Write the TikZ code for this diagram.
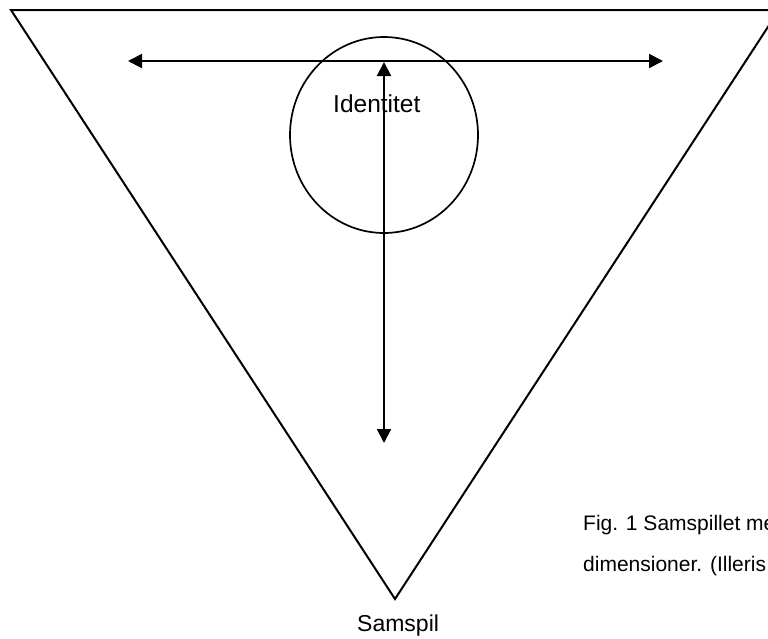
\documentclass[tikz,border=0pt]{standalone}
\usepackage{fontspec}
\setmainfont{Liberation Sans}
\usetikzlibrary{arrows.meta,shapes.geometric}

\begin{document}
\begin{tikzpicture}[
	x=1pt, y=-1pt,
	side/.style={line width=2pt, line join=miter},
	dbl/.style={{Triangle[length=14pt,width=14pt]}-{Triangle[length=14pt,width=14pt]}, line width=2pt},
	ring/.style={draw, ellipse, line width=1.7pt, minimum width=188pt, minimum height=196pt, inner sep=0pt},
	lbl/.style={font=\fontsize{23}{27}\selectfont, inner sep=0pt},
	captxt/.style={font=\fontsize{21}{25}\selectfont, inner sep=0pt},
	]
	
	\useasboundingbox (0,0) rectangle (768,638);
	\clip (0,0) rectangle (768,638);
	
	\coordinate (topleft)  at (11, 10);
	\coordinate (topright) at (779, 10);
	\coordinate (apex)     at (395, 599);
	
	\coordinate (west)  at (128, 61);
	\coordinate (east)  at (663, 61);
	\coordinate (north) at (384, 62);
	\coordinate (south) at (384, 443);
	
	\node[ring] (circ) at (384, 135) {};
	\node[lbl, anchor=base west, font=\fontsize{24.5}{28}\selectfont] (identitet) at (333, 112) {Identitet};
	\node[lbl, anchor=base west] (samspil)   at (357, 631) {Samspil};
	\node[captxt, anchor=base west] (caption1) at (583, 530) {Fig. 1 Samspillet me};
	\node[captxt, anchor=base west] (caption2) at (583, 571) {dimensioner. (Illeris};
	
	\draw[side] (topleft) -- (topright) -- (apex) -- cycle;
	\draw[dbl] (west) -- (east);
	\draw[dbl] (south) -- (north);
	
\end{tikzpicture}
\end{document}
